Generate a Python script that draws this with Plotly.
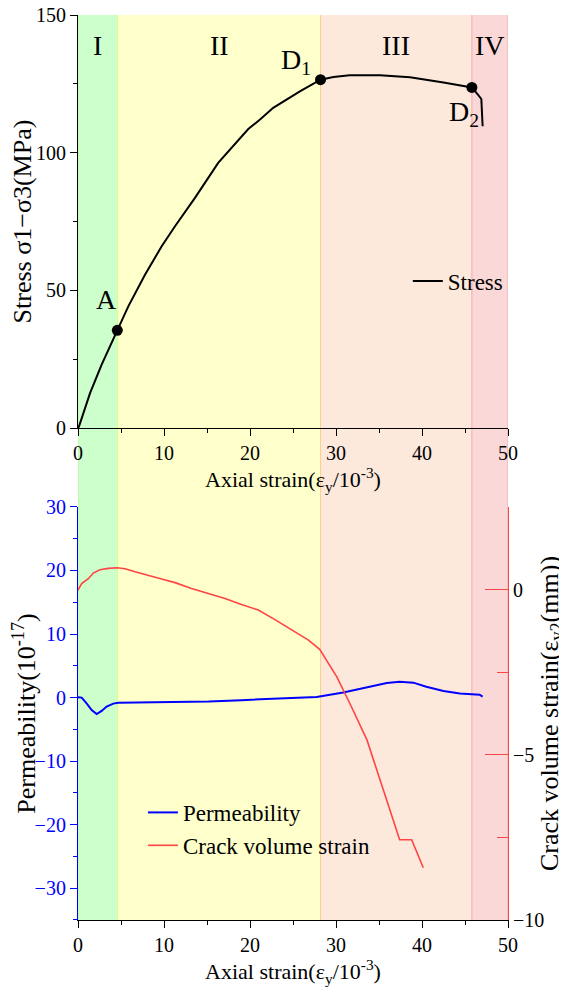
import plotly.graph_objects as go

# ---------------- data ----------------
stress_x = [0, 0.12, 1.40, 2.75, 4.57, 5.85, 7.79, 9.73, 11.28, 13.6, 16.3, 19.0, 19.8,
            21.2, 22.7, 25.8, 28.2, 29.7, 31.6, 35.1, 38.6, 42.5, 45.8, 46.5, 46.9, 47.05]
stress_y = [0, 0.6, 12.7, 23.0, 35.5, 44.2, 55.7, 66.0, 73.3, 83.6, 96.3, 106.0, 108.6,
            112.1, 116.3, 122.3, 126.5, 127.5, 128.1, 128.1, 127.4, 125.5, 123.7, 121.1, 119.5, 109.6]

key_labels = ["A", "D<sub>1</sub>", "D<sub>2</sub>"]
key_x = [4.57, 28.2, 45.8]
key_y = [35.5, 126.5, 123.7]

perm_x = [0, 0.43, 1.0, 1.59, 2.17, 2.75, 3.33, 4.1, 4.69, 7.4, 11.3, 15.2, 19.0, 22.9,
          25.8, 27.75, 30.85, 33.6, 35.9, 37.4, 39.0, 40.5, 42.5, 44.4, 46.7, 47.05]
perm_y = [0.05, 0, -0.9, -1.95, -2.6, -2.1, -1.4, -0.95, -0.8, -0.75, -0.7, -0.6, -0.4, -0.16,
          0.0, 0.1, 0.8, 1.6, 2.3, 2.5, 2.35, 1.7, 1.05, 0.65, 0.45, 0.15]

crack_x = [0, 0.43, 1.2, 1.78, 2.56, 3.52, 4.57, 5.47, 6.63, 8.17, 9.73, 11.28, 13.2, 15.15,
           17.1, 19.0, 20.97, 22.9, 24.85, 26.8, 28.1, 30.1, 31.6, 33.6, 35.5, 37.4, 38.8, 40.15]
crack_y = [-0.02, 0.18, 0.33, 0.50, 0.60, 0.64, 0.66, 0.63, 0.54, 0.44, 0.32, 0.21, 0.03, -0.12,
           -0.27, -0.45, -0.62, -0.91, -1.23, -1.53, -1.81, -2.64, -3.44, -4.55, -6.06, -7.57, -7.57, -8.42]

stage_names = ["I", "II", "III", "IV"]
stage_bounds = [0, 4.6, 28.2, 45.8, 50]
stage_fill = ["#ccffcc", "#ffffcc", "#fde9dc", "#fad8d8"]
stage_edge = ["#b8f5a0", "#d6ff80", "#ffd08a", "#f4a8a8", "#f4a8a8"]

FONT = "Liberation Serif"
BLUE = "#0000ff"
RED = "#ff4444"

fig = go.Figure()

# stress
fig.add_trace(go.Scatter(x=stress_x, y=stress_y, mode="lines", name="Stress",
                         line=dict(color="black", width=2), xaxis="x", yaxis="y",
                         legend="legend"))
fig.add_trace(go.Scatter(x=key_x, y=key_y, mode="markers", showlegend=False,
                         marker=dict(color="black", size=11), xaxis="x", yaxis="y"))

# bottom
fig.add_trace(go.Scatter(x=perm_x, y=perm_y, mode="lines", name="Permeability",
                         line=dict(color=BLUE, width=2), xaxis="x2", yaxis="y2",
                         legend="legend2"))
fig.add_trace(go.Scatter(x=crack_x, y=crack_y, mode="lines", name="Crack volume strain",
                         line=dict(color=RED, width=1.6), xaxis="x2", yaxis="y3",
                         legend="legend2"))

shapes = []
for i in range(4):
    shapes.append(dict(type="rect", xref="x", yref="paper", x0=stage_bounds[i], x1=stage_bounds[i + 1],
                       y0=0, y1=1, fillcolor=stage_fill[i], line=dict(width=0), layer="below"))
for i, b in enumerate(stage_bounds):
    shapes.append(dict(type="line", xref="x", yref="paper", x0=b, x1=b, y0=0, y1=1,
                       line=dict(color=stage_edge[i], width=1), layer="below"))

annotations = []
for i, nm in enumerate(stage_names):
    annotations.append(dict(x=(stage_bounds[i] + stage_bounds[i + 1]) / 2, y=139, xref="x", yref="y",
                            text=nm, showarrow=False, font=dict(family=FONT, size=28, color="black")))
shifts = [(-11, 31), (-25, 18), (-8, -26)]
for lab, x, y, (dx, dy) in zip(key_labels, key_x, key_y, shifts):
    annotations.append(dict(x=x, y=y, xref="x", yref="y", text=lab, showarrow=False,
                            xshift=dx, yshift=dy, font=dict(family=FONT, size=28, color="black")))

tickfont = dict(family=FONT, size=20, color="black")
xtitlefont = dict(family=FONT, size=22, color="black")
ytitlefont = dict(family=FONT, size=26, color="black")
xtitle = "Axial strain(ε<sub>y</sub>/10<sup>-3</sup>)"

common_x = dict(range=[0, 50], dtick=10, showgrid=False, zeroline=False, automargin=False,
                showline=True, linecolor="black", linewidth=1.2, ticks="outside", ticklen=7,
                tickcolor="black", tickfont=tickfont, ticklabeloverflow="allow",
                minor=dict(dtick=5, ticks="outside", ticklen=4, tickcolor="black"),
                title=dict(text=xtitle, font=xtitlefont, standoff=6))

fig.update_layout(
    width=559, height=981,
    margin=dict(l=70, r=59, t=7, b=69),
    paper_bgcolor="white", plot_bgcolor="rgba(0,0,0,0)",
    font=dict(family=FONT, size=20, color="black"),
    shapes=shapes, annotations=annotations,
    xaxis=dict(domain=[0, 1], anchor="y", **common_x),
    yaxis=dict(domain=[0.5436, 1], anchor="x", range=[0, 150], dtick=50, showgrid=False, zeroline=False,
               automargin=False, ticklabeloverflow="allow",
               showline=True, linecolor="black", linewidth=1.2, ticks="outside", ticklen=7,
               tickcolor="black", tickfont=tickfont,
               minor=dict(dtick=25, ticks="outside", ticklen=4, tickcolor="black"),
               title=dict(text="Stress σ1−σ3(MPa)", font=ytitlefont, standoff=4)),
    xaxis2=dict(domain=[0, 1], anchor="y2", **common_x),
    yaxis2=dict(domain=[0, 0.4564], anchor="x2", range=[-35, 30], dtick=10, showgrid=False, zeroline=False,
                automargin=False, ticklabeloverflow="allow",
                showline=True, linecolor=BLUE, linewidth=1.2, ticks="outside", ticklen=7,
                tickcolor=BLUE, tickfont=dict(family=FONT, size=20, color=BLUE),
                minor=dict(dtick=5, ticks="outside", ticklen=4, tickcolor=BLUE),
                title=dict(text="Permeability(10<sup>-17</sup>)", font=ytitlefont, standoff=4)),
    yaxis3=dict(overlaying="y2", anchor="x2", side="right", range=[-10, 2.5], tickvals=[0, -5, -10],
                showgrid=False, zeroline=False, showline=True, linecolor=RED, linewidth=1.2,
                automargin=False, ticklabeloverflow="allow",
                ticks="inside", ticklen=23, tickcolor=RED, tickfont=tickfont,
                minor=dict(tickvals=[2.5, -2.5, -7.5], ticks="inside", ticklen=11, tickcolor=RED),
                title=dict(text="Crack volume strain(ε<sub>v2</sub>(mm))", font=ytitlefont, standoff=6)),
    legend=dict(x=0.767, y=0.706, xanchor="left", yanchor="middle", bgcolor="rgba(0,0,0,0)",
                font=dict(family=FONT, size=23, color="black")),
    legend2=dict(x=0.151, y=0.1006, xanchor="left", yanchor="middle", bgcolor="rgba(0,0,0,0)",
                 font=dict(family=FONT, size=23, color="black"), tracegroupgap=0),
)

fig.write_html("out.html")
